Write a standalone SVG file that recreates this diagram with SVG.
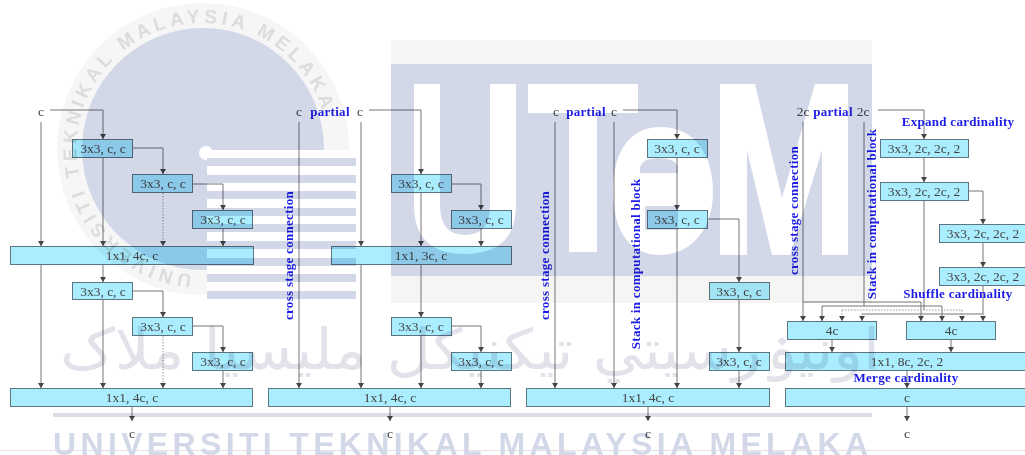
<svg xmlns="http://www.w3.org/2000/svg" width="1025" height="455" viewBox="0 0 1025 455">
<style>
.b{fill:#a9edff;stroke:#5d7480;stroke-width:1}
.t{font-family:"Liberation Serif",serif;font-size:13.5px;fill:#444;text-anchor:middle}
.l{font-family:"Liberation Serif",serif;font-size:13px;font-weight:bold;fill:#1c1ce6;text-anchor:middle;letter-spacing:.3px}
.c{fill:none;stroke:#777;stroke-width:1}
.d{stroke-dasharray:1.5 1.5;stroke:#999}
.wm{fill:#d3d8e8}
#diagram{mix-blend-mode:multiply;filter:url(#s)}
#watermark{filter:url(#s)}
</style>
<defs>
<filter id="s" x="0" y="0" width="1" height="1" filterUnits="objectBoundingBox"><feGaussianBlur stdDeviation="0.45"/></filter>
<marker id="a" markerUnits="userSpaceOnUse" markerWidth="6" markerHeight="6" refX="5" refY="3" orient="auto"><path d="M0 0L5 3L0 6Z" fill="#444"/></marker>
<path id="arc" d="M192 274.5A126 126 0 1 1 328 137"/>
</defs>
<rect width="1025" height="455" fill="#fff"/>
<g id="watermark">
<rect width="1025" height="455" fill="#fff"/>
<circle cx="203" cy="149" r="146" fill="#f6f6f6"/>
<circle cx="203" cy="149" r="121" class="wm"/>
<rect x="207" y="150" width="149" height="150" fill="#fff"/>
<circle cx="206" cy="153" r="7" fill="#fff"/>
<g class="wm"><rect x="207" y="158" width="149" height="8"/><rect x="207" y="175" width="149" height="8"/><rect x="207" y="191" width="149" height="8"/><rect x="207" y="208" width="149" height="8"/><rect x="207" y="224" width="149" height="8"/><rect x="207" y="241" width="149" height="8"/><rect x="207" y="258" width="149" height="8"/><rect x="207" y="274" width="149" height="8"/><rect x="207" y="291" width="149" height="8"/></g>
<text font-family="Liberation Sans,sans-serif" font-size="19" font-weight="bold" fill="#dcdcdc" letter-spacing="4.3"><textPath href="#arc">UNIVERSITI TEKNIKAL MALAYSIA MELAKA</textPath></text>
<rect x="391" y="40" width="481" height="263" fill="#f5f5f3"/>
<rect x="391" y="64" width="481" height="212" class="wm"/>
<g fill="#fff">
<path d="M414 84H440V205Q440 235 465 235Q490 235 490 205V84H516V205Q516 254 465 254Q414 254 414 205Z"/>
<path d="M528 84H638V113H597V252H569V113H528Z"/>
<path d="M660 127C695 127 713 155 713 192C713 230 690 255 660 255C630 255 613 232 613 190C613 152 630 127 660 127Z"/>
<path d="M720 84H755L782 198L815 84H848V255H822V150L790 255H772L747 150V255H720Z"/>
</g>
<path class="wm" d="M640 173V168Q642 158 659 158Q676 158 678 168V173Z"/>
<rect class="wm" x="645" y="206" width="33" height="24"/>
<rect x="53" y="413" width="819" height="4" fill="#dcdce8"/>
<rect y="450" width="1025" height="1" fill="#e2e2e2"/>
<text x="470" y="369" font-family="DejaVu Sans,sans-serif" font-size="56" fill="#e2e2ea" text-anchor="middle" direction="rtl" textLength="820" lengthAdjust="spacingAndGlyphs">اونيۏرسيتي تيکنيکل مليسيا ملاک</text>
<text x="53" y="454.5" font-family="Liberation Sans,sans-serif" font-size="32" font-weight="bold" fill="#d3d8e8" textLength="815">UNIVERSITI TEKNIKAL MALAYSIA MELAKA</text>
</g>
<g id="diagram">
<rect width="1025" height="455" fill="#fff"/>
<g id="connectors">
<path class="c" marker-end="url(#a)" d="M50 110H103V139"/><path class="c" marker-end="url(#a)" d="M41 122V246"/><path class="c" marker-end="url(#a)" d="M103 157V246"/><path class="c" d="M133 148H163V174" marker-end="url(#a)"/><path class="c d" marker-end="url(#a)" d="M163 193V246"/><path class="c" marker-end="url(#a)" d="M193 184H223V210"/><path class="c" marker-end="url(#a)" d="M223 229V246"/>
<path class="c" marker-end="url(#a)" d="M103 265V282"/><path class="c" marker-end="url(#a)" d="M41 265V388"/><path class="c" marker-end="url(#a)" d="M103 299V388"/><path class="c" marker-end="url(#a)" d="M133 291H163V317"/><path class="c d" marker-end="url(#a)" d="M163 336V388"/><path class="c" marker-end="url(#a)" d="M193 326H223V352"/><path class="c" marker-end="url(#a)" d="M223 371V388"/><path class="c" marker-end="url(#a)" d="M132 406V421"/>
<path class="c" marker-end="url(#a)" d="M369 110H421V174"/><path class="c" marker-end="url(#a)" d="M299 122V388"/><path class="c" marker-end="url(#a)" d="M361 122V246"/><path class="c" marker-end="url(#a)" d="M421 193V246"/><path class="c" marker-end="url(#a)" d="M452 184H481V210"/><path class="c" marker-end="url(#a)" d="M481 229V246"/>
<path class="c" marker-end="url(#a)" d="M361 265V388"/><path class="c" marker-end="url(#a)" d="M421 265V317"/><path class="c" marker-end="url(#a)" d="M452 326H481V352"/><path class="c" marker-end="url(#a)" d="M421 336V388"/><path class="c" marker-end="url(#a)" d="M481 371V388"/><path class="c" marker-end="url(#a)" d="M390 406V421"/>
<path class="c" marker-end="url(#a)" d="M623 110H677V139"/><path class="c" marker-end="url(#a)" d="M555 122V388"/><path class="c" marker-end="url(#a)" d="M614 122V388"/><path class="c" marker-end="url(#a)" d="M677 157V210"/><path class="c" marker-end="url(#a)" d="M677 229V388"/><path class="c" marker-end="url(#a)" d="M707 219H739V282"/><path class="c" marker-end="url(#a)" d="M739 299V352"/><path class="c" marker-end="url(#a)" d="M739 371V388"/><path class="c" marker-end="url(#a)" d="M648 406V421"/>
<path class="c" marker-end="url(#a)" d="M878 110H924V139"/><path class="c" marker-end="url(#a)" d="M924 157V182"/><path class="c" marker-end="url(#a)" d="M968 191H983V224"/><path class="c" marker-end="url(#a)" d="M983 243V267"/>
<path class="c" d="M924 200V310"/><path class="c" marker-end="url(#a)" d="M803 122V302H921V321"/><path class="c" marker-end="url(#a)" d="M803 302V321"/><path class="c" d="M864 122V306"/><path class="c" marker-end="url(#a)" d="M822 306H942V321"/><path class="c" marker-end="url(#a)" d="M822 306V321"/><path class="c d" marker-end="url(#a)" d="M842 310H962V321"/><path class="c d" marker-end="url(#a)" d="M842 310V321"/><path class="c" d="M983 285V314H862"/><path class="c d" marker-end="url(#a)" d="M862 314V321"/><path class="c d" marker-end="url(#a)" d="M983 314V321"/>
<path class="c" marker-end="url(#a)" d="M832 339V352"/><path class="c" marker-end="url(#a)" d="M951 339V352"/><path class="c" marker-end="url(#a)" d="M907 371V388"/><path class="c" marker-end="url(#a)" d="M907 406V421"/>
</g>
<g id="n1a"><rect class="b" x="72.5" y="139.5" width="60" height="18"/><text class="t" x="103" y="153">3x3, c, c</text></g>
<g id="n1b"><rect class="b" x="132.5" y="174.5" width="60" height="18"/><text class="t" x="163" y="188">3x3, c, c</text></g>
<g id="n1c"><rect class="b" x="192.5" y="210.5" width="60" height="18"/><text class="t" x="223" y="224">3x3, c, c</text></g>
<g id="n1d"><rect class="b" x="10.5" y="246.5" width="243" height="18"/><text class="t" x="132" y="260">1x1, 4c, c</text></g>
<g id="n1e"><rect class="b" x="72.5" y="282.5" width="60" height="17"/><text class="t" x="103" y="296">3x3, c, c</text></g>
<g id="n1f"><rect class="b" x="132.5" y="317.5" width="60" height="18"/><text class="t" x="163" y="331">3x3, c, c</text></g>
<g id="n1g"><rect class="b" x="192.5" y="352.5" width="60" height="18"/><text class="t" x="223" y="366">3x3, c, c</text></g>
<g id="n1h"><rect class="b" x="10.5" y="388.5" width="242" height="18"/><text class="t" x="132" y="402">1x1, 4c, c</text></g>
<g id="n2a"><rect class="b" x="391.5" y="174.5" width="60" height="18"/><text class="t" x="421" y="188">3x3, c, c</text></g>
<g id="n2b"><rect class="b" x="451.5" y="210.5" width="60" height="18"/><text class="t" x="481" y="224">3x3, c, c</text></g>
<g id="n2c"><rect class="b" x="331.5" y="246.5" width="180" height="18"/><text class="t" x="421" y="260">1x1, 3c, c</text></g>
<g id="n2d"><rect class="b" x="391.5" y="317.5" width="60" height="18"/><text class="t" x="421" y="331">3x3, c, c</text></g>
<g id="n2e"><rect class="b" x="451.5" y="352.5" width="60" height="18"/><text class="t" x="481" y="366">3x3, c, c</text></g>
<g id="n2f"><rect class="b" x="268.5" y="388.5" width="242" height="18"/><text class="t" x="390" y="402">1x1, 4c, c</text></g>
<g id="n3a"><rect class="b" x="647.5" y="139.5" width="60" height="18"/><text class="t" x="677" y="153">3x3, c, c</text></g>
<g id="n3b"><rect class="b" x="647.5" y="210.5" width="60" height="18"/><text class="t" x="677" y="224">3x3, c, c</text></g>
<g id="n3c"><rect class="b" x="709.5" y="282.5" width="60" height="17"/><text class="t" x="739" y="296">3x3, c, c</text></g>
<g id="n3d"><rect class="b" x="709.5" y="352.5" width="60" height="18"/><text class="t" x="739" y="366">3x3, c, c</text></g>
<g id="n3e"><rect class="b" x="526.5" y="388.5" width="243" height="18"/><text class="t" x="648" y="402">1x1, 4c, c</text></g>
<g id="n4a"><rect class="b" x="880.5" y="139.5" width="88" height="18"/><text class="t" x="924" y="153">3x3, 2c, 2c, 2</text></g>
<g id="n4b"><rect class="b" x="880.5" y="182.5" width="88" height="18"/><text class="t" x="924" y="196">3x3, 2c, 2c, 2</text></g>
<g id="n4c"><rect class="b" x="939.5" y="224.5" width="90" height="18"/><text class="t" x="983" y="238">3x3, 2c, 2c, 2</text></g>
<g id="n4d"><rect class="b" x="939.5" y="267.5" width="90" height="18"/><text class="t" x="983" y="281">3x3, 2c, 2c, 2</text></g>
<g id="n4e"><rect class="b" x="787.5" y="321.5" width="89" height="18"/><text class="t" x="832" y="335">4c</text></g>
<g id="n4f"><rect class="b" x="906.5" y="321.5" width="89" height="18"/><text class="t" x="951" y="335">4c</text></g>
<g id="n4g"><rect class="b" x="785.5" y="352.5" width="245" height="18"/><text class="t" x="907" y="366">1x1, 8c, 2c, 2</text></g>
<g id="n4h"><rect class="b" x="785.5" y="388.5" width="245" height="18"/><text class="t" x="907" y="402">c</text></g>
<g id="labels">
<text class="t" x="41" y="116">c</text><text class="t" x="299" y="116">c</text><text class="t" x="360" y="116">c</text><text class="t" x="556" y="116">c</text><text class="t" x="614" y="116">c</text><text class="t" x="803" y="116">2c</text><text class="t" x="863" y="116">2c</text>
<text class="t" x="132" y="438">c</text><text class="t" x="390" y="438">c</text><text class="t" x="648" y="438">c</text><text class="t" x="907" y="438">c</text>
<text class="l" x="330" y="116">partial</text><text class="l" x="586" y="116">partial</text><text class="l" x="833" y="116">partial</text>
<text class="l" x="958" y="126">Expand cardinality</text><text class="l" x="958" y="298">Shuffle cardinality</text><text class="l" x="906" y="382">Merge cardinality</text>
<text class="l" transform="translate(293 255.5) rotate(-90)">cross stage connection</text>
<text class="l" transform="translate(549 255.5) rotate(-90)">cross stage connection</text>
<text class="l" transform="translate(798 210.5) rotate(-90)">cross stage connection</text>
<text class="l" transform="translate(640 264) rotate(-90)">Stack in computational block</text>
<text class="l" transform="translate(876 214) rotate(-90)">Stack in computational block</text>
</g>
</g>
</svg>
